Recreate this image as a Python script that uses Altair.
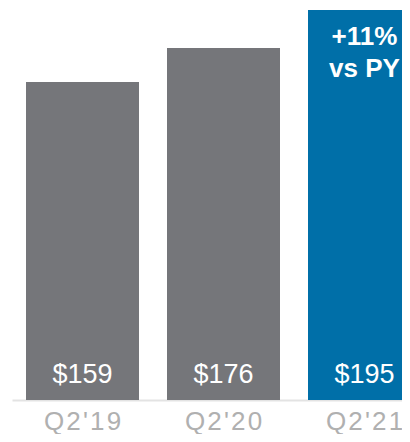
import altair as alt
import pandas as pd

quarters = ["Q2'19", "Q2'20", "Q2'21"]
values = [159, 176, 195]
labels = ["$159", "$176", "$195"]
highlight = [False, False, True]
annotation = ["", "", "+11%\nvs PY"]

df = pd.DataFrame({
    "quarter": quarters,
    "value": values,
    "label": labels,
    "hl": highlight,
    "note": annotation,
})

FONT = "Liberation Sans"

x = alt.X(
    "quarter:N",
    sort=quarters,
    title=None,
    scale=alt.Scale(range=[4, 427], paddingInner=28 / 141, paddingOuter=28 / 141 / 2),
    axis=alt.Axis(
        labelAngle=0,
        ticks=False,
        domainColor="#e3e3e3",
        domainWidth=2,
        labelColor="#b0b0b0",
        labelFont=FONT,
        labelFontSize=26,
        labelPadding=29,
        labelBaseline="alphabetic",
        labelExpr="join(split(datum.label, ''), '\u200a')",
        grid=False,
    ),
)

base = alt.Chart(df).encode(x=x)

bars = base.mark_bar(size=113).encode(
    y=alt.Y("value:Q", scale=alt.Scale(domain=[0, 196], nice=False), axis=None),
    color=alt.Color(
        "hl:N",
        scale=alt.Scale(domain=[False, True], range=["#75767a", "#006fa8"]),
        legend=None,
    ),
)

vals = base.mark_text(
    font=FONT, fontSize=27, color="white", baseline="alphabetic", dy=-17
).encode(y=alt.datum(0), text="label:N")

notes = base.mark_text(
    font=FONT, fontSize=26, fontWeight="bold", color="white",
    baseline="alphabetic", dy=35, lineBreak="\n", lineHeight=32,
).encode(y="value:Q", text="note:N")

chart = (
    alt.layer(bars, vals, notes)
    .properties(
        width=394,
        height=392,
        autosize=alt.AutoSizeParams(type="none"),
        padding={"left": 0, "top": 0, "right": 0, "bottom": 34},
    )
    .configure_view(stroke=None)
)

chart.save("out.html", embed_options={"renderer": "svg", "actions": False})
